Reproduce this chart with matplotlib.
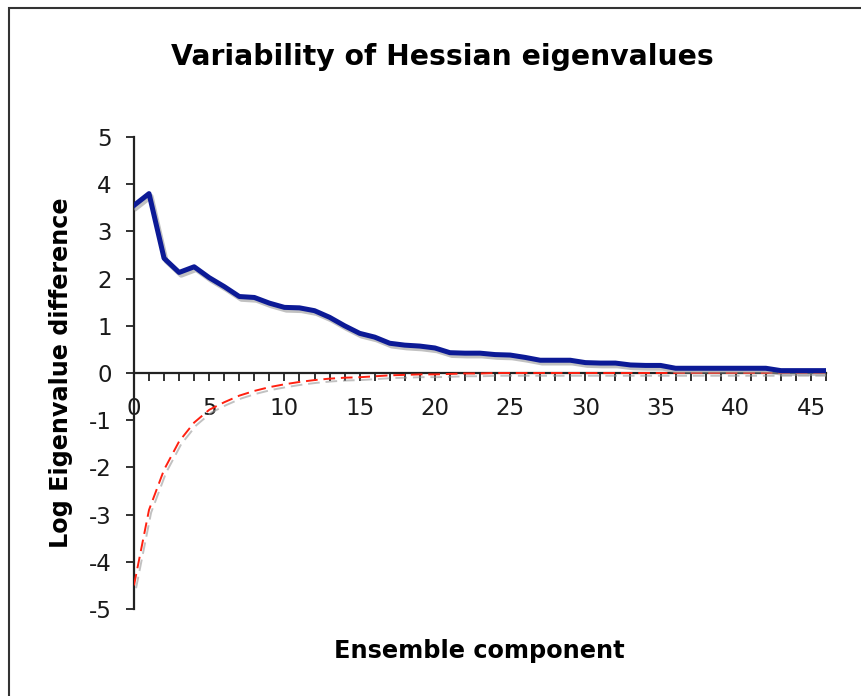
import matplotlib
matplotlib.use("Agg")
import matplotlib.pyplot as plt
import matplotlib.patheffects as pe
from matplotlib.patches import Rectangle

plt.rcParams['font.family'] = 'DejaVu Sans'
plt.rcParams['axes.unicode_minus'] = False

# ensemble component index
components = list(range(47))

# log eigenvalue difference, upper (blue) and lower (red dashed) curves
upper = [3.55, 3.8, 2.43, 2.13, 2.25, 2.02, 1.83, 1.62, 1.6, 1.48,
         1.39, 1.38, 1.32, 1.18, 1.0, 0.84, 0.76, 0.63, 0.59, 0.57,
         0.53, 0.43, 0.42, 0.42, 0.39, 0.38, 0.33, 0.27, 0.27, 0.27,
         0.22, 0.21, 0.21, 0.17, 0.16, 0.16, 0.1, 0.1, 0.1, 0.1,
         0.1, 0.1, 0.1, 0.05, 0.05, 0.05, 0.05]
lower = [-4.5, -2.9, -2.05, -1.45, -1.05, -0.78, -0.62, -0.48, -0.38, -0.3,
         -0.24, -0.19, -0.15, -0.12, -0.1, -0.09, -0.07, -0.05, -0.04, -0.03,
         -0.03, -0.02, -0.01, -0.01, 0, 0, 0, 0, 0, 0,
         0, 0, 0, 0, 0, 0, 0, 0, 0, 0,
         0, 0, 0, 0, 0, 0, 0]

xticks = list(range(0, 46, 5))
yticks = list(range(-5, 6))

fig = plt.figure(figsize=(8.61, 6.96), dpi=100)
ax = fig.add_axes([0.1556, 0.125, 0.8038, 0.6782])

shadow = [pe.SimpleLineShadow(offset=(1.5, -2), shadow_color='#999999', alpha=0.6), pe.Normal()]
ax.plot(components, upper, color='#0c1a96', lw=3.6, solid_joinstyle='round',
        path_effects=shadow, zorder=4)
ax.plot(components, lower, color='#ff2010', lw=1.4, linestyle=(0, (6, 3)),
        path_effects=shadow, zorder=3)

ax.set_xlim(0, 46)
ax.set_ylim(-5, 5)

ax.spines['right'].set_visible(False)
ax.spines['top'].set_visible(False)
ax.spines['bottom'].set_position(('data', 0))
ax.spines['bottom'].set_linewidth(1.6)
ax.spines['left'].set_linewidth(1.6)
ax.spines['bottom'].set_color('#222222')
ax.spines['left'].set_color('#222222')

ax.set_xticks(xticks)
ax.set_xticks(components, minor=True)
ax.set_yticks(yticks)
ax.tick_params(axis='x', which='minor', direction='out', length=6, width=1.3, color='#222222')
ax.tick_params(axis='x', which='major', direction='out', length=6, width=1.3, color='#222222',
               pad=11, labelsize=16.5, labelcolor='#1a1a1a')
ax.tick_params(axis='y', direction='out', length=6, width=1.3, color='#222222',
               labelsize=16.5, pad=10, labelcolor='#1a1a1a')

fig.text(442 / 861, 1 - 57 / 696, 'Variability of Hessian eigenvalues', fontsize=20.3,
         fontweight='bold', ha='center', va='center')
ax.set_ylabel('Log Eigenvalue difference', fontsize=17.2, fontweight='bold', va='center')
ax.yaxis.set_label_coords(-0.1055, 0.5)
ax.set_xlabel('Ensemble component', fontsize=17.25, fontweight='bold', va='center')
ax.xaxis.set_label_coords((479 - 134) / 692, (609 - 651) / 472)

fig.patches.append(Rectangle((9 / 861, -0.1), 1.2, 1.1 - 8 / 696, transform=fig.transFigure,
                             fill=False, edgecolor='#333333', lw=1.5))

fig.savefig('out.png', dpi=100)
